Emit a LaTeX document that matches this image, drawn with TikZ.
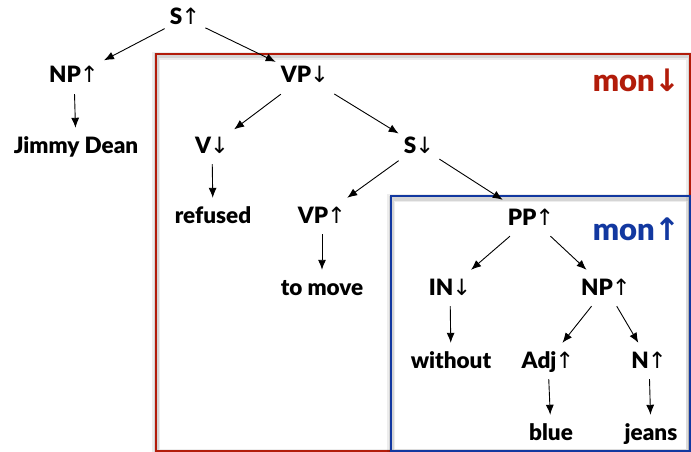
\documentclass[tikz,border=0pt]{standalone}
\usepackage{fontspec}
\setmainfont{Lato}[BoldFont={Lato Black}]
\newfontfamily\arrowfont{DejaVu Sans}
\usepackage{xcolor}
\usetikzlibrary{arrows.meta}
\definecolor{monRed}{RGB}{178,28,10}
\definecolor{monBlue}{RGB}{18,56,160}
\newcommand\upar{{\arrowfont\mdseries\kern-1pt↑}}
\newcommand\dnar{{\arrowfont\mdseries\kern-1pt↓}}
\tikzset{%
  treenode/.style={font=\fontsize{22.5}{24}\selectfont\bfseries, text height=20pt, text depth=6pt, inner sep=5pt, anchor=base},
  % ---
  % edges of the tree
  % ---
  branch/.style={-{Latex[length=10pt,width=8pt]}, line width=0.9pt},
  % ---
  % monotonicity frames
  % ---
  monShadow/.style={line width=8pt, draw=black, opacity=0.07},
  monShadowIn/.style={line width=5pt, draw=black, opacity=0.10},
  monFrame/.style={line width=2.6pt},
  monLabel/.style={font=\fontsize{31}{33}\selectfont\bfseries, inner sep=0pt, anchor=base east}}

\begin{document}
\begin{tikzpicture}[x=1pt,y=-1pt]
    \useasboundingbox (0,0) rectangle (691,452);

    % frames
    \draw[monShadow] (156,56) rectangle (690,453);
    \draw[monShadowIn] (156,56) rectangle (690,453);
    \draw[monFrame, monRed] (156,54) rectangle (690,451);
    \draw[monShadow] (391,198) rectangle (690,453);
    \draw[monShadowIn] (391,198) rectangle (690,453);
    \draw[monFrame, monBlue] (391,196) rectangle (690,451);

    \node[monLabel, monRed] (monDown) at (681,92) {mon{\arrowfont ↓}};
    \node[monLabel, monBlue] (monUp) at (681,240) {mon{\arrowfont ↑}};

    % tree
    \node[treenode] (s1) at (185,25) {S\upar};
    \node[treenode] (np1) at (74,83) {NP\upar};
    \node[treenode] (vp1) at (305,83) {VP\dnar};
    \node[treenode] (jimmy) at (76,153) {Jimmy Dean};
    \node[treenode] (v) at (212,153) {V\dnar};
    \node[treenode] (s2) at (419,153) {S\dnar};
    \node[treenode] (refused) at (213,223) {refused};
    \node[treenode] (vp2) at (322,223) {VP\upar};
    \node[treenode] (pp) at (531,225) {PP\upar};
    \node[treenode] (tomove) at (322,295) {to move};
    \node[treenode] (in) at (450,295) {IN\dnar};
    \node[treenode] (np2) at (606,295) {NP\upar};
    \node[treenode] (without) at (451,368) {without};
    \node[treenode] (adj) at (548,368) {Adj\upar};
    \node[treenode] (n) at (649,368) {N\upar};
    \node[treenode] (blue) at (551,440) {blue};
    \node[treenode] (jeans) at (651,440) {jeans};

    \draw[branch] (s1) -- (np1);
    \draw[branch] (s1) -- (vp1);
    \draw[branch] (np1) -- (jimmy);
    \draw[branch] (vp1) -- (v);
    \draw[branch] (vp1) -- (s2);
    \draw[branch] (v) -- (refused);
    \draw[branch] (s2) -- (vp2);
    \draw[branch] (s2) -- (pp);
    \draw[branch] (vp2) -- (tomove);
    \draw[branch] (pp) -- (in);
    \draw[branch] (pp) -- (np2);
    \draw[branch] (in) -- (without);
    \draw[branch] (np2) -- (adj);
    \draw[branch] (np2) -- (n);
    \draw[branch] (adj) -- (blue);
    \draw[branch] (n) -- (jeans);
  \end{tikzpicture}
\end{document}
